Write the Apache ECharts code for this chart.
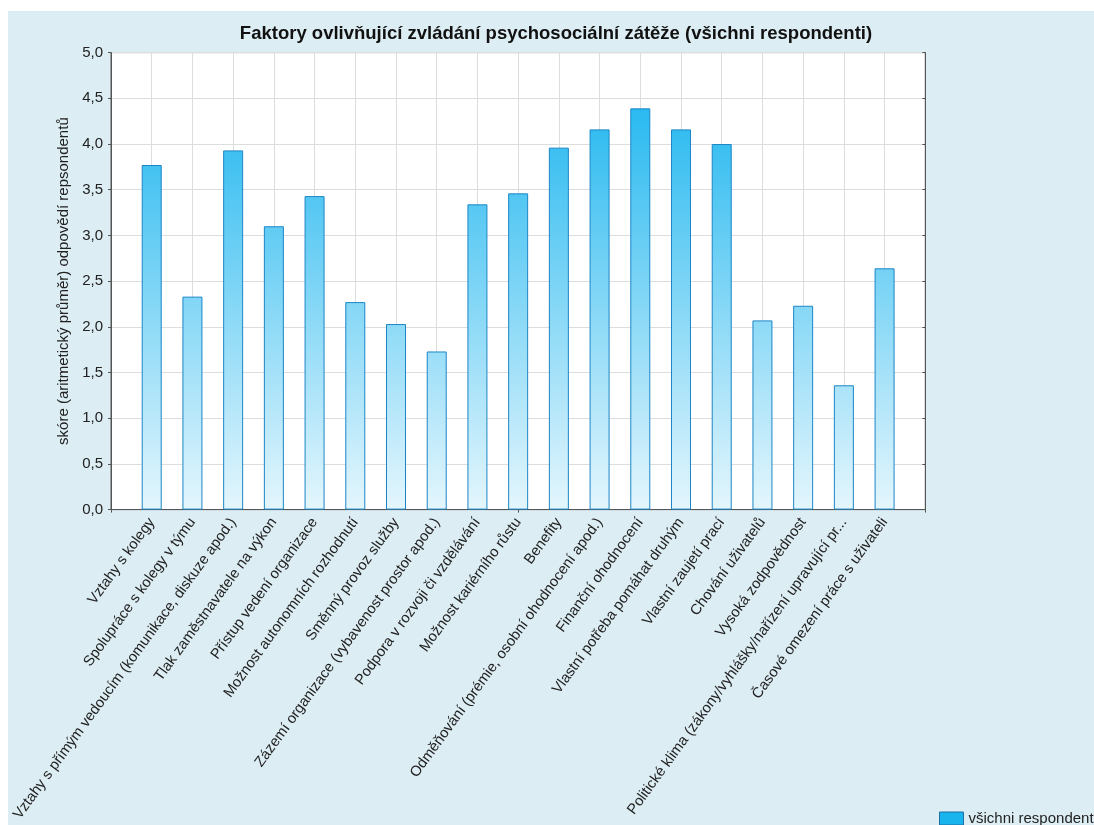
<!DOCTYPE html>
<html>
<head>
<meta charset="utf-8">
<script src="https://cdn.jsdelivr.net/npm/echarts@6/dist/echarts.min.js"></script>
<style>
html,body{margin:0;padding:0;background:#fff;width:1094px;height:825px;overflow:hidden;}
#chart{position:absolute;left:8px;top:11px;width:1086px;height:814px;}
</style>
</head>
<body>
<div id="chart"></div>
<script>
const titleText = 'Faktory ovlivňující zvládání psychosociální zátěže (všichni respondenti)';
const yAxisName = 'skóre (aritmetický průměr) odpovědí repsondentů';
const seriesName = 'všichni respondenti';
const categories = [
  'Vztahy s kolegy',
  'Spolupráce s kolegy v týmu',
  'Vztahy s přímým vedoucím (komunikace, diskuze apod.)',
  'Tlak zaměstnavatele na výkon',
  'Přístup vedení organizace',
  'Možnost autonomních rozhodnutí',
  'Směnný provoz služby',
  'Zázemí organizace (vybavenost prostor apod.)',
  'Podpora v rozvoji či vzdělávání',
  'Možnost kariérního růstu',
  'Benefity',
  'Odměňování (prémie, osobní ohodnocení apod.)',
  'Finanční ohodnocení',
  'Vlastní potřeba pomáhat druhým',
  'Vlastní zaujetí prací',
  'Chování uživatelů',
  'Vysoká zodpovědnost',
  'Politické klima (zákony/vyhlášky/nařízení upravující pr...',
  'Časové omezení práce s uživateli'
];
const values = [3.77, 2.33, 3.93, 3.10, 3.43, 2.27, 2.03, 1.73, 3.34, 3.46, 3.96, 4.16, 4.39, 4.16, 4.00, 2.07, 2.23, 1.36, 2.64];
const yTicks = [0, 0.5, 1, 1.5, 2, 2.5, 3, 3.5, 4, 4.5, 5];

// pad one empty slot on each side (the plot leaves one category width free at both ends)
const axisCats = [''].concat(categories, ['']);
const axisVals = [null].concat(values, [null]);

const chart = echarts.init(document.getElementById('chart'));
const font = 'Liberation Sans, Arial, sans-serif';
chart.setOption({
  backgroundColor: '#dcedf3',
  animation: false,
  textStyle: {fontFamily: font},
  title: {
    text: titleText,
    left: 543, top: 8, textAlign: 'center',
    textStyle: {fontSize: 18.5, fontWeight: 'bold', color: '#111', fontFamily: font}
  },
  legend: {
    left: 931, top: 800, padding: 0,
    itemWidth: 24, itemHeight: 13, itemGap: 6,
    icon: 'rect',
    textStyle: {fontSize: 15, color: '#222', fontFamily: font},
    data: [{name: seriesName, itemStyle: {color: '#19b3ee', borderColor: '#1d6fa5', borderWidth: 1}}]
  },
  grid: {
    left: 103, top: 41.6, right: 168.7, bottom: 315.4,
    show: true, backgroundColor: '#ffffff', borderColor: '#555', borderWidth: 1,
    containLabel: false,
    outerBoundsMode: 'none'
  },
  xAxis: [{
    type: 'category',
    data: axisCats,
    boundaryGap: false,
    axisLine: {show: true, lineStyle: {color: '#555'}},
    axisTick: {show: true, inside: true, length: 3, lineStyle: {color: '#555'}},
    splitLine: {show: true, lineStyle: {color: '#dddddd', width: 1}},
    axisLabel: {rotate: 54, fontSize: 14.7, color: '#222', margin: 10, interval: 0, fontFamily: font, hideOverlap: false}
  }, {
    type: 'category',
    data: axisCats,
    boundaryGap: false,
    position: 'top',
    axisLine: {show: true, lineStyle: {color: '#555'}},
    axisTick: {show: true, inside: true, length: 3, lineStyle: {color: '#555'}},
    axisLabel: {show: false},
    splitLine: {show: false}
  }],
  yAxis: [{
    type: 'value',
    min: 0, max: 5, interval: 0.5,
    name: yAxisName,
    nameLocation: 'middle',
    nameGap: 38,
    nameTextStyle: {fontSize: 15, color: '#222', fontFamily: font},
    axisLine: {show: true, lineStyle: {color: '#555'}},
    axisTick: {show: true, inside: false, length: 3, lineStyle: {color: '#555'}},
    splitLine: {show: true, lineStyle: {color: '#dddddd', width: 1}},
    axisLabel: {
      fontSize: 15, color: '#222', margin: 8, fontFamily: font,
      formatter: v => yTicks.includes(v) ? v.toFixed(1).replace('.', ',') : ''
    }
  }, {
    type: 'value',
    min: 0, max: 5, interval: 0.5,
    position: 'right',
    axisLine: {show: true, lineStyle: {color: '#555'}},
    axisTick: {show: true, inside: true, length: 3, lineStyle: {color: '#555'}},
    axisLabel: {show: false},
    splitLine: {show: false}
  }],
  series: [{
    name: seriesName,
    type: 'bar',
    xAxisIndex: 0, yAxisIndex: 0,
    data: axisVals,
    barWidth: 20,
    itemStyle: {
      color: new echarts.graphic.LinearGradient(0, 41.6, 0, 498.6, [
        {offset: 0, color: '#10b1ee'},
        {offset: 1, color: '#e4f6fd'}
      ], true),
      borderColor: '#1c86c6',
      borderWidth: 1
    }
  }]
});
</script>
</body>
</html>
